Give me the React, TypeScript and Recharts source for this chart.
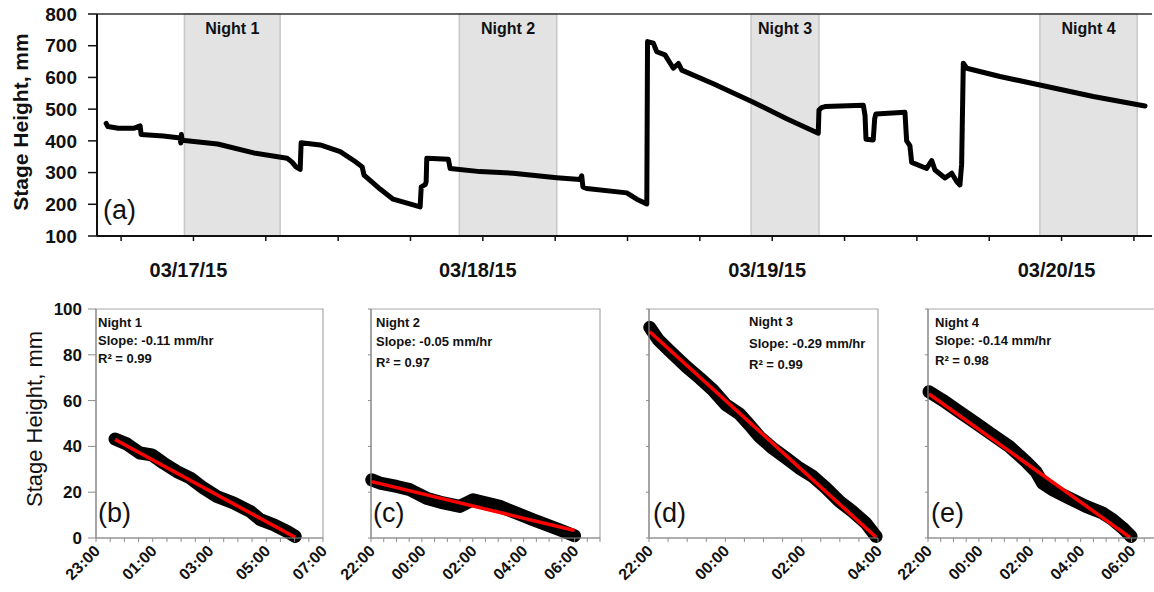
import React from "react";
import { ComposedChart, LineChart, Line, XAxis, YAxis, ReferenceArea, ReferenceLine } from "recharts";

const FONT = '"Liberation Sans", Arial, Helvetica, sans-serif';

// (a) stage height record, hours counted from 03/17/15 00:00
const stageHours = [
  -7.24, -7.1, -6.24, -4.9, -4.42, -4.34, -2.5, -1.1, -1.05, -1.0, -0.94, 2, 5, 7.77, 8.18, 8.5, 8.85, 8.93,
  10.51, 12.17, 13.41, 13.99, 14.15, 15.48, 16.56, 18.8, 18.89, 19.22, 19.3, 19.35, 21.14, 21.29, 23.77,
  26.51, 30.13, 32.07, 32.2, 32.3, 32.62, 35.94, 36.77, 37.6, 37.66, 38.14, 38.43, 39.11, 39.8, 40.22,
  40.5, 43.12, 46.43, 49.2, 51.82, 51.88, 52.1, 52.38, 55.56, 55.7, 55.78, 56.38, 56.5, 56.6, 59.01,
  59.15, 59.42, 59.57, 60.81, 61.23, 61.5, 62.33, 62.89, 63.3, 63.57, 63.71, 63.85, 64.13, 66.89, 70.2,
  74.63, 78.92,
];
const stageMm = [
  455, 445, 440, 440, 447, 420, 415, 409, 393, 420, 402, 390, 362, 345, 333, 318, 310, 394,
  387, 366, 335, 318, 292, 248, 216, 192, 255, 262, 271, 345, 342, 313, 303,
  298, 284, 278, 290, 255, 250, 236, 216, 201, 713, 708, 681, 671, 629, 644,
  623, 580, 522, 470, 424, 497, 505, 508, 512, 480, 405, 403, 470, 485, 490,
  400, 385, 332, 313, 338, 308, 283, 298, 272, 261, 325, 645, 629, 603, 576,
  540, 510,
];

const dateTicks = [-6, 0, 6, 12, 18, 24, 30, 36, 42, 48, 54, 60, 66, 72, 78];
const dateLabels: Record<number, string> = { 0: "03/17/15", 24: "03/18/15", 48: "03/19/15", 72: "03/20/15" };

const nightNames = ["Night 1", "Night 2", "Night 3", "Night 4"];
const nightStart = [-0.75, 22.05, 46.25, 70.2];
const nightEnd = [7.19, 30.13, 51.88, 78.27];

// (b)-(e) nightly recession, hours after the first axis tick
const night1Hours = [0.67, 1.08, 1.55, 1.97, 2.38, 2.85, 3.32, 3.79, 4.26, 4.85, 5.44, 5.79, 6.26, 6.73, 7.02];
const night1Mm = [43.2, 41.1, 37.1, 36.3, 32.7, 29.0, 26.2, 21.8, 18.1, 15.3, 11.6, 8.0, 5.8, 2.9, 0.7];
const night1FitHours = [0.67, 7.02];
const night1FitMm = [43.0, 0.3];

const night2Hours = [0.03, 0.35, 1.01, 1.53, 2.18, 2.84, 3.49, 4.01, 4.54, 5.06, 5.71, 6.37, 6.89, 7.41, 8.0];
const night2Mm = [25.4, 24.0, 22.5, 21.1, 17.4, 15.3, 13.8, 16.7, 15.3, 13.8, 10.9, 8.0, 5.8, 3.6, 1.0];
const night2FitHours = [0.03, 8.0];
const night2FitMm = [24.6, 3.3];

const night3Hours = [0.02, 0.24, 0.54, 0.98, 1.33, 1.67, 2.02, 2.37, 2.63, 2.89, 3.24, 3.59, 3.94, 4.29, 4.64, 4.99, 5.33, 5.68, 5.95];
const night3Mm = [92.0, 86.6, 81.7, 74.8, 69.8, 64.7, 58.1, 54.2, 49.4, 44.3, 39.2, 34.9, 30.5, 26.9, 21.8, 16.0, 11.6, 6.5, 0.7];
const night3FitHours = [0.02, 5.95];
const night3FitMm = [90.1, 0.3];

const night4Hours = [0.04, 0.56, 1.22, 1.88, 2.53, 3.19, 3.85, 4.24, 4.5, 4.89, 5.55, 6.21, 6.86, 7.26, 7.65, 7.98];
const night4Mm = [63.9, 60.3, 55.2, 50.2, 45.1, 40.0, 33.4, 29.0, 24.0, 21.1, 17.4, 13.8, 10.9, 8.0, 4.4, 0.7];
const night4FitHours = [0.04, 7.94];
const night4FitMm = [62.9, 0.3];

const slopes = ["Slope: -0.11 mm/hr", "Slope: -0.05 mm/hr", "Slope: -0.29 mm/hr", "Slope: -0.14 mm/hr"];
const rSquared = ["R\u00b2 = 0.99", "R\u00b2 = 0.97", "R\u00b2 = 0.99", "R\u00b2 = 0.98"];
const panelLetters = ["(b)", "(c)", "(d)", "(e)"];
const panelStartHour = [23, 22, 22, 22];
const panelSpan = [8, 9, 6, 9];

const panels = [
  { hours: night1Hours, mm: night1Mm, fitH: night1FitHours, fitMm: night1FitMm, left: 0, width: 330, yWidth: 96, right: 7, noteX: 98, noteY: [327, 345, 363], letterX: 98 },
  { hours: night2Hours, mm: night2Mm, fitH: night2FitHours, fitMm: night2FitMm, left: 331, width: 275, yWidth: 40, right: 6, noteX: 376, noteY: [327, 346, 367], letterX: 373 },
  { hours: night3Hours, mm: night3Mm, fitH: night3FitHours, fitMm: night3FitMm, left: 609, width: 275, yWidth: 40, right: 6, noteX: 749, noteY: [326, 348, 369], letterX: 653 },
  { hours: night4Hours, mm: night4Mm, fitH: night4FitHours, fitMm: night4FitMm, left: 888, width: 275, yWidth: 40, right: 6, noteX: 935, noteY: [327, 345, 365], letterX: 931 },
];

function DateTick(props: any) {
  const { x, y, payload } = props;
  const label = dateLabels[payload.value];
  if (!label) return <g />;
  return (
    <text x={x - 5} y={y + 36} textAnchor="middle" fontSize={20} fontWeight="bold" fontFamily={FONT} fill="#111">
      {label}
    </text>
  );
}

function TimeTick(props: any) {
  const { x, y, payload, start } = props;
  const h = payload.value;
  if (h % 2 !== 0) return <g />;
  const hh = (start + h) % 24;
  const label = `${String(hh).padStart(2, "0")}:00`;
  const ax = x + 5;
  const ay = y + 10;
  return (
    <text x={ax} y={ay} transform={`rotate(-45 ${ax} ${ay})`} textAnchor="end" fontSize={16} fontWeight="bold" fontFamily={FONT} fill="#111">
      {label}
    </text>
  );
}

function NightPanel({ i }: { i: number }) {
  const p = panels[i];
  const span = panelSpan[i];
  const data = p.hours.map((t, k) => ({ t, mm: p.mm[k] }));
  const fit = p.fitH.map((t, k) => ({ t, fit: p.fitMm[k] }));
  const ticks = Array.from({ length: span * 2 + 1 }, (_, k) => k / 2);
  const first = i === 0;
  return (
    <div style={{ position: "absolute", left: p.left, top: 300 }}>
      <ComposedChart width={p.width} height={292} margin={{ top: 9, right: p.right, bottom: 0, left: 0 }}>
        <ReferenceArea x1={0} x2={span} y1={0} y2={100} fill="none" stroke="#a8a8a8" strokeWidth={1.2} />
        <XAxis
          type="number" dataKey="t" domain={[0, span]} ticks={ticks} interval={0} height={54}
          tickSize={4} tickMargin={0} tick={<TimeTick start={panelStartHour[i]} />}
          axisLine={{ stroke: "#8c8c8c", strokeWidth: 1.2 }} tickLine={{ stroke: "#8c8c8c" }}
        />
        <YAxis
          type="number" domain={[0, 100]} ticks={[0, 20, 40, 60, 80, 100]} interval={0} width={p.yWidth}
          tickSize={first ? 8 : 3} tickMargin={first ? 6 : 0}
          tickFormatter={first ? undefined : () => ""}
          tick={{ fontSize: 17, fontWeight: "bold", fill: "#111", fontFamily: FONT }}
          axisLine={{ stroke: "#8c8c8c", strokeWidth: 1.2 }} tickLine={{ stroke: "#8c8c8c" }}
        />
        <Line data={data} dataKey="mm" type="linear" stroke="#000" strokeWidth={13} strokeLinecap="round" strokeLinejoin="round" dot={false} isAnimationActive={false} />
        <Line data={fit} dataKey="fit" type="linear" stroke="#ff0000" strokeWidth={3.5} dot={false} isAnimationActive={false} />
      </ComposedChart>
    </div>
  );
}

export default function App() {
  const stage = stageHours.map((t, k) => ({ t, mm: stageMm[k] }));
  return (
    <div style={{ position: "fixed", left: 0, top: 0, width: 1154, height: 592, overflow: "hidden", background: "#fff", fontFamily: FONT }}>
      <div style={{ position: "absolute", left: 0, top: 0 }}>
        <LineChart width={1154} height={292} data={stage} margin={{ top: 14, right: 2, bottom: 0, left: 0 }}>
          {nightNames.map((n, k) => (
            <ReferenceArea
              key={n} x1={nightStart[k]} x2={nightEnd[k]} fill="#e3e3e3" fillOpacity={1} stroke="#c8c8c8" strokeWidth={1.5}
              label={{ value: n, position: "insideTop", offset: 9, fill: "#111", fontSize: 16, fontWeight: "bold", fontFamily: FONT }}
            />
          ))}
          <ReferenceLine y={800} stroke="#333" strokeWidth={1.5} />
          <XAxis
            type="number" dataKey="t" domain={[-8, 79.5]} ticks={dateTicks} interval={0} height={56}
            tickSize={5} tickMargin={0} tick={<DateTick />}
            axisLine={{ stroke: "#111", strokeWidth: 2 }} tickLine={{ stroke: "#111", strokeWidth: 1.5 }}
          />
          <YAxis
            type="number" domain={[100, 800]} ticks={[100, 200, 300, 400, 500, 600, 700, 800]} interval={0} width={97}
            tickSize={9} tickMargin={11}
            tick={{ fontSize: 19, fontWeight: "bold", fill: "#111", fontFamily: FONT }}
            axisLine={{ stroke: "#111", strokeWidth: 2 }} tickLine={{ stroke: "#111", strokeWidth: 1.5 }}
          />
          <Line dataKey="mm" type="linear" stroke="#000" strokeWidth={5} strokeLinejoin="round" strokeLinecap="round" dot={false} isAnimationActive={false} />
        </LineChart>
      </div>
      {panels.map((_, k) => (
        <NightPanel key={k} i={k} />
      ))}
      <svg width={1154} height={592} style={{ position: "absolute", left: 0, top: 0, pointerEvents: "none" }} fontFamily={FONT}>
        <text transform="translate(20,122) rotate(-90)" textAnchor="middle" dominantBaseline="central" fontSize={21} fontWeight="bold" fill="#111">
          Stage Height, mm
        </text>
        <text x={103} y={219} fontSize={27} fill="#111">(a)</text>
        <text transform="translate(34,419) rotate(-90)" textAnchor="middle" dominantBaseline="central" fontSize={22} fill="#111">
          Stage Height, mm
        </text>
        {panels.map((p, k) => (
          <g key={k} fill="#111">
            <text x={p.noteX} y={p.noteY[0]} fontSize={13} fontWeight="bold">{nightNames[k]}</text>
            <text x={p.noteX} y={p.noteY[1]} fontSize={13} fontWeight="bold">{slopes[k]}</text>
            <text x={p.noteX} y={p.noteY[2]} fontSize={13} fontWeight="bold">{rSquared[k]}</text>
            <text x={p.letterX} y={522} fontSize={27}>{panelLetters[k]}</text>
          </g>
        ))}
      </svg>
    </div>
  );
}
